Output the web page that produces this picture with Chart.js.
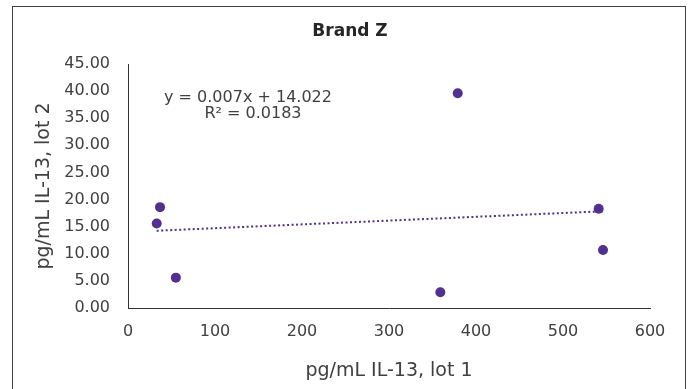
<!DOCTYPE html>
<html>
<head>
<meta charset="utf-8">
<script src="https://cdn.jsdelivr.net/npm/chart.js@4.4.3/dist/chart.umd.min.js"></script>
<style>
  html, body { margin: 0; padding: 0; background: #fff; overflow: hidden; }
  .wrap { position: relative; width: 694px; height: 389px; }
</style>
</head>
<body>
<div class="wrap"><canvas id="brandChart" width="694" height="389"></canvas></div>
<script>
// values
const lot1 = [36.8, 33, 55, 359, 379, 541, 546];
const lot2 = [18.6, 15.6, 5.6, 2.9, 39.6, 18.3, 10.7];
const trendLot1 = [33, 546];
const trendLot2 = [14.25, 17.84];
const eqLines = ['y = 0.007x + 14.022', 'R\u00b2 = 0.0183'];

const purple = '#51308f';
const axisColor = '#333333';
const textColor = '#404040';
const fontFamily = '"DejaVu Sans", Verdana, sans-serif';

const points = lot1.map((x, i) => ({ x: x, y: lot2[i] }));
const trend = trendLot1.map((x, i) => ({ x: x, y: trendLot2[i] }));

// outer frame + trendline equation
const extras = {
    id: 'extras',
    beforeDraw(chart) {
        const c = chart.ctx;
        c.save();
        c.fillStyle = '#fff';
        c.fillRect(0, 0, chart.width, chart.height);
        c.strokeStyle = '#404040';
        c.lineWidth = 1;
        c.strokeRect(12.5, 6.5, 673, 400);
        c.restore();
    },
    afterDraw(chart) {
        const c = chart.ctx;
        c.save();
        c.fillStyle = textColor;
        c.font = '16px ' + fontFamily;
        c.textAlign = 'center';
        c.textBaseline = 'middle';
        c.fillText(eqLines[0], 248, 98);
        c.fillText(eqLines[1], 253, 114);
        c.restore();
    }
};

new Chart(document.getElementById('brandChart'), {
    type: 'scatter',
    data: {
        datasets: [{
            label: 'Brand Z',
            data: points,
            backgroundColor: purple,
            borderColor: purple,
            borderWidth: 0,
            pointRadius: 5,
            order: 1
        }, {
            label: 'Linear',
            type: 'line',
            data: trend,
            borderColor: purple,
            borderWidth: 2,
            borderDash: [2, 2.5],
            pointRadius: 0,
            fill: false,
            order: 2
        }]
    },
    options: {
        responsive: false,
        animation: false,
        layout: { padding: { left: 0, right: -6, top: 0, bottom: 0 } },
        plugins: {
            legend: { display: false },
            tooltip: { enabled: false },
            title: {
                display: true,
                text: 'Brand Z',
                color: '#262626',
                font: { family: fontFamily, size: 17, weight: 'bold' },
                padding: { top: 21.8, bottom: 21.8 }
            }
        },
        scales: {
            x: {
                type: 'linear',
                min: 0,
                max: 600,
                ticks: { stepSize: 100, color: textColor, padding: 14, font: { family: fontFamily, size: 16 } },
                grid: { display: false, drawTicks: false },
                border: { display: true, color: axisColor, width: 1 },
                title: {
                    display: true,
                    text: 'pg/mL IL-13, lot 1',
                    color: textColor,
                    font: { family: fontFamily, size: 19 },
                    padding: { top: 0, bottom: 7 }
                },
                afterFit(scale) { scale.height = 81; }
            },
            y: {
                type: 'linear',
                min: 0,
                max: 45,
                ticks: {
                    stepSize: 5,
                    color: textColor,
                    padding: 18,
                    font: { family: fontFamily, size: 16 },
                    callback: v => v.toFixed(2)
                },
                grid: { display: false, drawTicks: false },
                border: { display: true, color: axisColor, width: 1 },
                title: {
                    display: true,
                    text: 'pg/mL IL-13, lot 2',
                    color: textColor,
                    font: { family: fontFamily, size: 19 },
                    padding: { top: 33, bottom: 0 }
                },
                afterFit(scale) { scale.width = 128; }
            },
            // empty right-hand spacer so the title centres like the original
            spacer: {
                type: 'linear',
                position: 'right',
                display: true,
                ticks: { display: false },
                grid: { display: false, drawTicks: false },
                border: { display: false },
                afterFit(scale) { scale.width = 50; }
            }
        }
    },
    plugins: [extras]
});
</script>
</body>
</html>
